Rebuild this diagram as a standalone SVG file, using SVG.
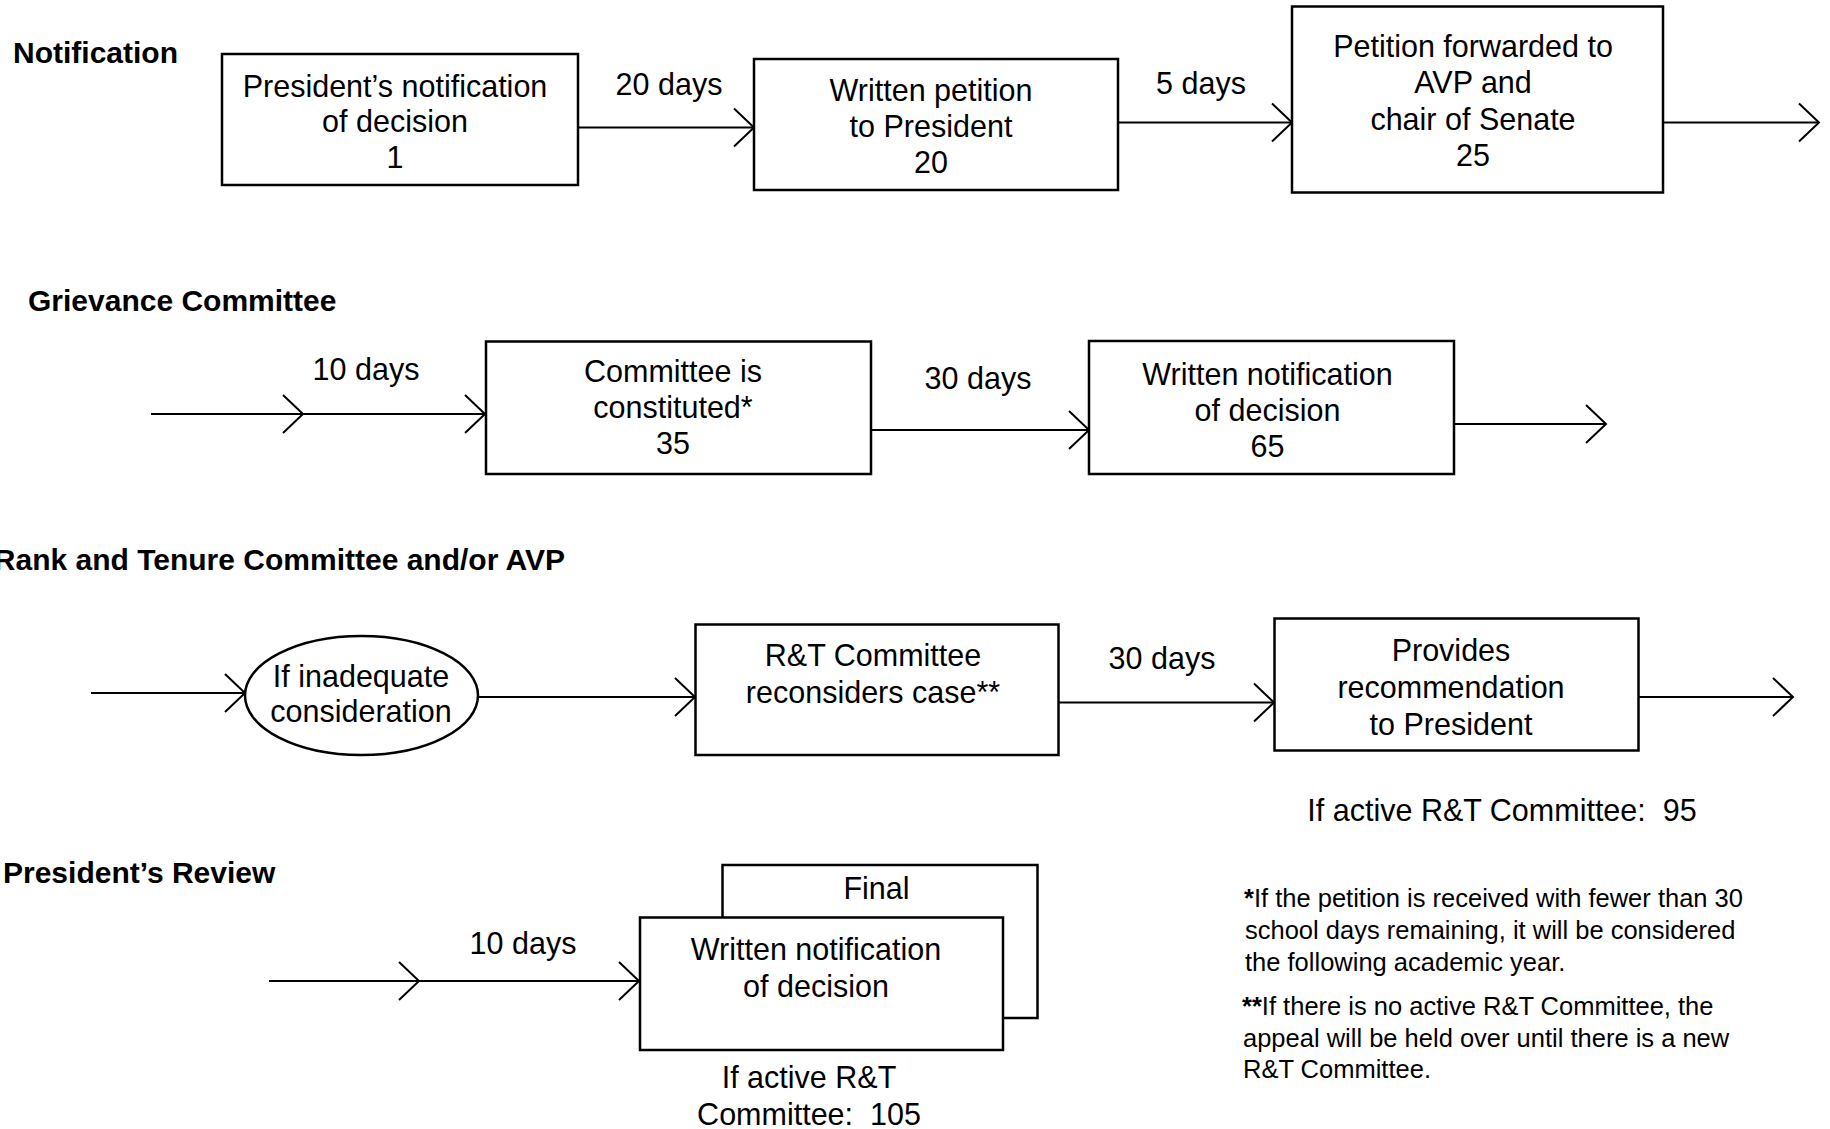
<svg xmlns="http://www.w3.org/2000/svg" width="1830" height="1129" viewBox="0 0 1830 1129">
  <style>
    text { font-family: "Liberation Sans", Arial, sans-serif; fill: #000; }
    .title { font-size: 30px; font-weight: bold; }
    .lbl { font-size: 30.5px; text-anchor: middle; }
    .pre { white-space: pre; }
    .note { font-size: 25.5px; }
    .star { font-weight: bold; }
    .box { fill: #fff; stroke: #000; stroke-width: 2.5; }
    .flow { fill: none; stroke: #000; stroke-width: 2.2; marker-end: url(#chev); }
    .flow2 { fill: none; stroke: #000; stroke-width: 2.2; marker-mid: url(#chev); marker-end: url(#chev); }
  </style>
  <defs>
    <marker id="chev" viewBox="-22 -21 24 42" markerWidth="24" markerHeight="42" refX="0" refY="0" orient="auto" markerUnits="userSpaceOnUse">
      <path d="M-20,-19 L0,0 L-20,19" fill="none" stroke="#000" stroke-width="2"/>
    </marker>
  </defs>
  <rect width="1830" height="1129" fill="#fff"/>

  <!-- section headings -->
  <g id="headings">
    <text class="title" x="13" y="63">Notification</text>
    <text class="title" x="28" y="311">Grievance Committee</text>
    <text class="title" x="565" y="570" text-anchor="end">Rank and Tenure Committee and/or AVP</text>
    <text class="title" x="3" y="883">President’s Review</text>
  </g>

  <!-- connectors -->
  <g id="connectors">
    <line class="flow" x1="578" y1="127.5" x2="754" y2="127.5"/>
    <line class="flow" x1="1118" y1="122.5" x2="1292" y2="122.5"/>
    <line class="flow" x1="1663" y1="122.5" x2="1819" y2="122.5"/>

    <polyline class="flow2" points="151,414 303,414 485,414"/>
    <line class="flow" x1="871" y1="430" x2="1089" y2="430"/>
    <line class="flow" x1="1454" y1="424" x2="1606" y2="424"/>

    <line class="flow" x1="91" y1="693" x2="245" y2="693"/>
    <line class="flow" x1="478" y1="697" x2="695" y2="697"/>
    <line class="flow" x1="1058" y1="702.5" x2="1274" y2="702.5"/>
    <line class="flow" x1="1638" y1="697" x2="1793" y2="697"/>

    <polyline class="flow2" points="269,981 419,981 639,981"/>

    <text class="lbl" x="669" y="95">20 days</text>
    <text class="lbl" x="1201" y="94">5 days</text>
    <text class="lbl" x="366" y="380">10 days</text>
    <text class="lbl" x="978" y="389">30 days</text>
    <text class="lbl" x="1162" y="669">30 days</text>
    <text class="lbl" x="523" y="954">10 days</text>
  </g>

  <!-- Notification -->
  <g id="n-presidents-notification">
    <rect class="box" x="222" y="54" width="356" height="131"/>
    <text class="lbl" x="395" y="96.5">President’s notification<tspan x="395" dy="35.5">of decision</tspan><tspan x="395" dy="35.5">1</tspan></text>
  </g>
  <g id="n-written-petition">
    <rect class="box" x="754" y="59" width="364" height="131"/>
    <text class="lbl" x="931" y="101">Written petition<tspan x="931" dy="36">to President</tspan><tspan x="931" dy="36">20</tspan></text>
  </g>
  <g id="n-petition-forwarded">
    <rect class="box" x="1292" y="6.5" width="371" height="186"/>
    <text class="lbl" x="1473" y="56.5">Petition forwarded to<tspan x="1473" dy="36.5">AVP and</tspan><tspan x="1473" dy="36.5">chair of Senate</tspan><tspan x="1473" dy="36.5">25</tspan></text>
  </g>

  <!-- Grievance Committee -->
  <g id="n-committee-constituted">
    <rect class="box" x="486" y="341.5" width="385" height="132.5"/>
    <text class="lbl" x="673" y="382">Committee is<tspan x="673" dy="36.2">constituted*</tspan><tspan x="673" dy="36.2">35</tspan></text>
  </g>
  <g id="n-grievance-decision">
    <rect class="box" x="1089" y="341" width="365" height="133"/>
    <text class="lbl" x="1267.5" y="384.5">Written notification<tspan x="1267.5" dy="36.2">of decision</tspan><tspan x="1267.5" dy="36.2">65</tspan></text>
  </g>

  <!-- Rank and Tenure Committee and/or AVP -->
  <g id="n-inadequate">
    <ellipse cx="361.5" cy="695.5" rx="116.5" ry="59.5" fill="#fff" stroke="#000" stroke-width="2.5"/>
    <text class="lbl" x="361" y="687">If inadequate<tspan x="361" dy="35">consideration</tspan></text>
  </g>
  <g id="n-rt-reconsiders">
    <rect class="box" x="695.5" y="624.5" width="363" height="130.5"/>
    <text class="lbl" x="873" y="666">R&amp;T Committee<tspan x="873" dy="37">reconsiders case**</tspan></text>
  </g>
  <g id="n-recommendation">
    <rect class="box" x="1274.5" y="618.5" width="364" height="132"/>
    <text class="lbl" x="1451" y="661">Provides<tspan x="1451" dy="36.8">recommendation</tspan><tspan x="1451" dy="36.8">to President</tspan></text>
    <text class="lbl pre" x="1502" y="821">If active R&amp;T Committee:  95</text>
  </g>

  <!-- President's Review -->
  <g id="n-final-decision">
    <rect class="box" x="722.5" y="865" width="315" height="153"/>
    <text class="lbl" x="876.5" y="899">Final</text>
    <rect class="box" x="640" y="917.5" width="363" height="132.5"/>
    <text class="lbl" x="816" y="960">Written notification<tspan x="816" dy="37">of decision</tspan></text>
    <text class="lbl pre" x="809" y="1088">If active R&amp;T<tspan x="809" dy="36.5">Committee:  105</tspan></text>
  </g>

  <!-- footnotes -->
  <g id="footnotes">
    <text class="note" x="1244" y="906.5"><tspan class="star">*</tspan>If the petition is received with fewer than 30<tspan x="1245" dy="32.3">school days remaining, it will be considered</tspan><tspan x="1245" dy="32.3">the following academic year.</tspan></text>
    <text class="note" x="1242" y="1015"><tspan class="star">**</tspan>If there is no active R&amp;T Committee, the<tspan x="1243" dy="31.5">appeal will be held over until there is a new</tspan><tspan x="1243" dy="31.5">R&amp;T Committee.</tspan></text>
  </g>
</svg>
